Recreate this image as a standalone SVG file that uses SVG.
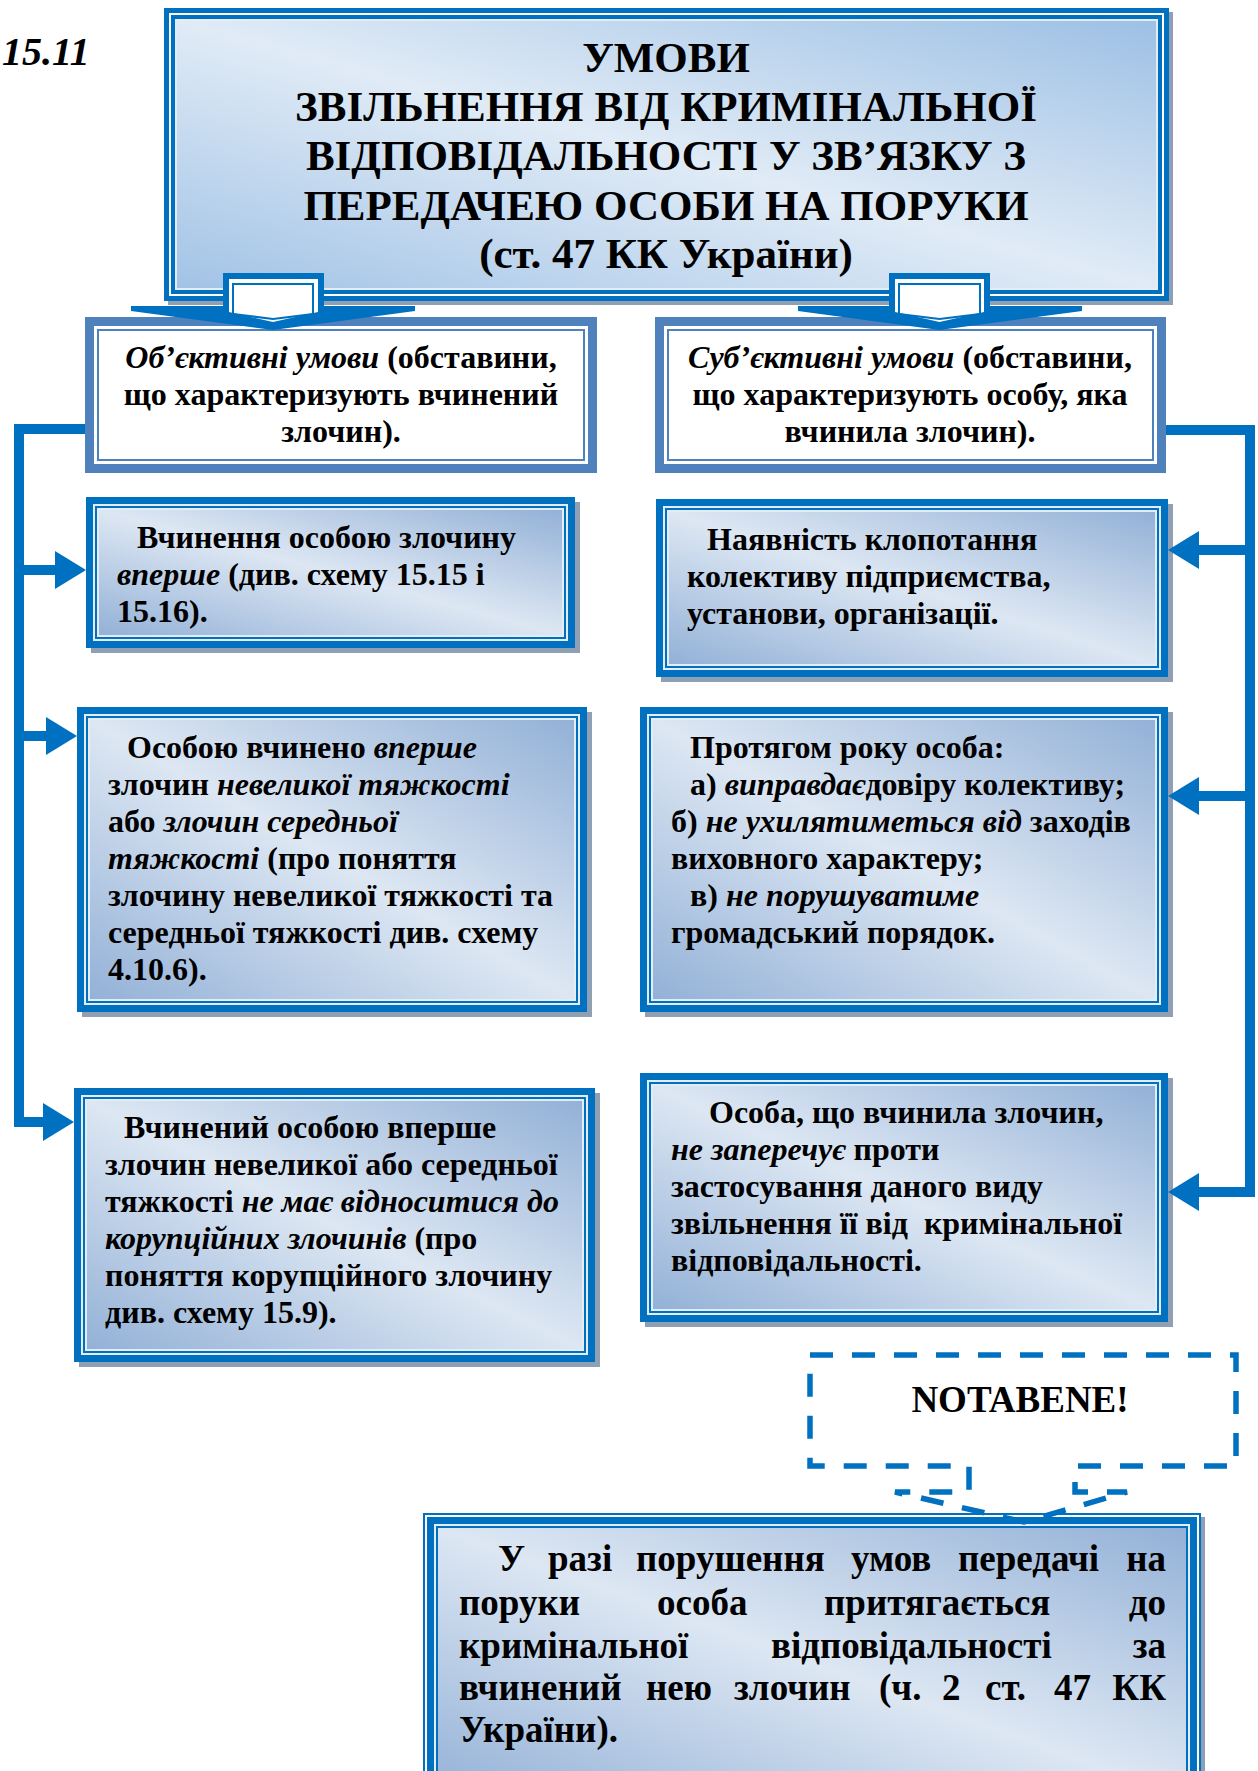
<svg xmlns="http://www.w3.org/2000/svg" width="1258" height="1771" viewBox="0 0 1258 1771">
<style>
text{font-family:"Liberation Serif","Times New Roman",serif;font-weight:bold;fill:#000}
.ttl{font-size:43px;text-anchor:middle}
.bx{font-size:32px}
.ctr{text-anchor:middle}
.big{font-size:37px}
.i{font-style:italic}
.blue{fill:#0070C0}
.sb{fill:#4F81BD}
.wh{fill:#fff}
.lt{fill:#E4ECF6}
.sh{fill:#8FA0B4}
.gd{fill:url(#gd)}
.gt{fill:url(#gt)}
.ln{stroke:#0070C0;stroke-width:10;fill:none}
</style>
<defs>
<linearGradient id="gd" x1="1" y1="0" x2="0" y2="1">
<stop offset="0" stop-color="#93B1D7"/>
<stop offset="0.5" stop-color="#DDE7F3"/>
<stop offset="1" stop-color="#93B1D7"/>
</linearGradient>
<linearGradient id="gt" x1="1" y1="0" x2="0" y2="1">
<stop offset="0" stop-color="#9DC0E5"/>
<stop offset="0.5" stop-color="#E0EBF6"/>
<stop offset="1" stop-color="#A2C3E6"/>
</linearGradient>
</defs>
<rect width="1258" height="1771" fill="#fff"/>

<text x="2" y="65" font-size="40" class="i">15.11</text>

<g id="title">
<rect class="sh" x="168" y="12" width="1005" height="293"/>
<rect class="blue" x="164" y="8" width="1005" height="293"/>
<rect class="wh" x="169" y="13" width="995" height="283"/>
<rect class="blue" x="171" y="15" width="991" height="279"/>
<rect class="lt" x="175" y="19" width="983" height="271"/>
<rect class="gt" x="177" y="21" width="979" height="267"/>
<text class="ttl" x="666" y="72">УМОВИ</text>
<text class="ttl" x="666" y="121">ЗВІЛЬНЕННЯ ВІД КРИМІНАЛЬНОЇ</text>
<text class="ttl" x="666" y="170">ВІДПОВІДАЛЬНОСТІ У ЗВ’ЯЗКУ З</text>
<text class="ttl" x="666" y="220">ПЕРЕДАЧЕЮ ОСОБИ НА ПОРУКИ</text>
<text class="ttl" x="666" y="268">(ст. 47 КК України)</text>
</g>

<g id="objective">
<rect class="sb" x="85" y="317" width="512" height="156"/>
<rect class="wh" x="94" y="326" width="494" height="138"/>
<rect class="sb" x="97" y="329" width="488" height="132"/>
<rect class="wh" x="99" y="331" width="484" height="128"/>
<text class="bx ctr" x="341" y="368"><tspan class="i">Об’єктивні умови</tspan> (обставини,</text>
<text class="bx ctr" x="341" y="405">що характеризують вчинений</text>
<text class="bx ctr" x="341" y="442">злочин).</text>
</g>

<g id="subjective">
<rect class="sb" x="655" y="317" width="511" height="156"/>
<rect class="wh" x="664" y="326" width="493" height="138"/>
<rect class="sb" x="667" y="329" width="487" height="132"/>
<rect class="wh" x="669" y="331" width="483" height="128"/>
<text class="bx ctr" x="910" y="368"><tspan class="i">Суб’єктивні умови</tspan> (обставини,</text>
<text class="bx ctr" x="910" y="405">що характеризують особу, яка</text>
<text class="bx ctr" x="910" y="442">вчинила злочин).</text>
</g>

<g id="b1">
<rect class="sh" x="91" y="502" width="489" height="151"/>
<rect class="blue" x="86" y="497" width="489" height="151"/>
<rect class="lt" x="93" y="504" width="475" height="137"/>
<rect class="blue" x="95" y="506" width="471" height="133"/>
<rect class="lt" x="97" y="508" width="467" height="129"/>
<rect class="gd" x="99" y="510" width="463" height="125"/>
<text class="bx" x="137" y="548">Вчинення особою злочину</text>
<text class="bx" x="117" y="585"><tspan class="i">вперше</tspan> (див. схему 15.15 і</text>
<text class="bx" x="117" y="622">15.16).</text>
</g>

<g id="b2">
<rect class="sh" x="82" y="712" width="510" height="305"/>
<rect class="blue" x="77" y="707" width="510" height="305"/>
<rect class="lt" x="84" y="714" width="496" height="291"/>
<rect class="blue" x="86" y="716" width="492" height="287"/>
<rect class="lt" x="88" y="718" width="488" height="283"/>
<rect class="gd" x="90" y="720" width="484" height="279"/>
<text class="bx" x="127" y="758">Особою вчинено <tspan class="i">вперше</tspan></text>
<text class="bx" x="108" y="795">злочин <tspan class="i">невеликої тяжкості</tspan></text>
<text class="bx" x="108" y="832">або <tspan class="i">злочин середньої</tspan></text>
<text class="bx" x="108" y="869"><tspan class="i">тяжкості</tspan> (про поняття</text>
<text class="bx" x="108" y="906">злочину невеликої тяжкості та</text>
<text class="bx" x="108" y="943">середньої тяжкості див. схему</text>
<text class="bx" x="108" y="980">4.10.6).</text>
</g>

<g id="b3">
<rect class="sh" x="79" y="1093" width="521" height="274"/>
<rect class="blue" x="74" y="1088" width="521" height="274"/>
<rect class="lt" x="81" y="1095" width="507" height="260"/>
<rect class="blue" x="83" y="1097" width="503" height="256"/>
<rect class="lt" x="85" y="1099" width="499" height="252"/>
<rect class="gd" x="87" y="1101" width="495" height="248"/>
<text class="bx" x="124" y="1138">Вчинений особою вперше</text>
<text class="bx" x="105" y="1175">злочин невеликої або середньої</text>
<text class="bx" x="105" y="1212">тяжкості <tspan class="i">не має відноситися до</tspan></text>
<text class="bx" x="105" y="1249"><tspan class="i">корупційних злочинів</tspan> (про</text>
<text class="bx" x="105" y="1286">поняття корупційного злочину</text>
<text class="bx" x="105" y="1323">див. схему 15.9).</text>
</g>

<g id="r1">
<rect class="sh" x="661" y="504" width="512" height="178"/>
<rect class="blue" x="656" y="499" width="512" height="178"/>
<rect class="lt" x="663" y="506" width="498" height="164"/>
<rect class="blue" x="665" y="508" width="494" height="160"/>
<rect class="lt" x="667" y="510" width="490" height="156"/>
<rect class="gd" x="669" y="512" width="486" height="152"/>
<text class="bx" x="707" y="550">Наявність клопотання</text>
<text class="bx" x="687" y="587">колективу підприємства,</text>
<text class="bx" x="687" y="624">установи, організації.</text>
</g>

<g id="r2">
<rect class="sh" x="645" y="712" width="528" height="305"/>
<rect class="blue" x="640" y="707" width="528" height="305"/>
<rect class="lt" x="647" y="714" width="514" height="291"/>
<rect class="blue" x="649" y="716" width="510" height="287"/>
<rect class="lt" x="651" y="718" width="506" height="283"/>
<rect class="gd" x="653" y="720" width="502" height="279"/>
<text class="bx" x="690" y="758">Протягом року особа:</text>
<text class="bx" x="690" y="795">а) <tspan class="i">виправдає</tspan>довіру колективу;</text>
<text class="bx" x="671" y="832">б) <tspan class="i">не ухилятиметься від</tspan> заходів</text>
<text class="bx" x="671" y="869">виховного характеру;</text>
<text class="bx" x="690" y="906">в) <tspan class="i">не порушуватиме</tspan></text>
<text class="bx" x="671" y="943">громадський порядок.</text>
</g>

<g id="r3">
<rect class="sh" x="645" y="1078" width="528" height="249"/>
<rect class="blue" x="640" y="1073" width="528" height="249"/>
<rect class="lt" x="647" y="1080" width="514" height="235"/>
<rect class="blue" x="649" y="1082" width="510" height="231"/>
<rect class="lt" x="651" y="1084" width="506" height="227"/>
<rect class="gd" x="653" y="1086" width="502" height="223"/>
<text class="bx" x="709" y="1123">Особа, що вчинила злочин,</text>
<text class="bx" x="671" y="1160"><tspan class="i">не заперечує</tspan> проти</text>
<text class="bx" x="671" y="1197">застосування даного виду</text>
<text class="bx" x="671" y="1234">звільнення її від&#160; кримінальної</text>
<text class="bx" x="671" y="1271">відповідальності.</text>
</g>

<g id="bottom">
<rect class="sh" x="427" y="1517" width="778" height="300"/>
<rect class="blue" x="423" y="1513" width="778" height="300"/>
<rect class="wh" x="425" y="1515" width="774" height="296"/>
<rect class="blue" x="427" y="1517" width="770" height="292"/>
<rect class="lt" x="434" y="1524" width="756" height="278"/>
<rect class="blue" x="436" y="1526" width="752" height="274"/>
<rect class="gd" x="438" y="1528" width="748" height="270"/>
<text class="big" y="1571"><tspan x="498">У</tspan><tspan x="548">разі</tspan><tspan x="636">порушення</tspan><tspan x="851">умов</tspan><tspan x="958">передачі</tspan><tspan x="1166" text-anchor="end">на</tspan></text>
<text class="big" y="1615"><tspan x="459">поруки</tspan><tspan x="657">особа</tspan><tspan x="824">притягається</tspan><tspan x="1166" text-anchor="end">до</tspan></text>
<text class="big" y="1658"><tspan x="459">кримінальної</tspan><tspan x="771">відповідальності</tspan><tspan x="1166" text-anchor="end">за</tspan></text>
<text class="big" y="1700"><tspan x="459">вчинений</tspan><tspan x="646">нею</tspan><tspan x="734">злочин</tspan><tspan x="879">(ч.</tspan><tspan x="942">2</tspan><tspan x="985">ст.</tspan><tspan x="1054">47</tspan><tspan x="1166" text-anchor="end">КК</tspan></text>
<text class="big" x="459" y="1742">України).</text>
</g>

<g id="notabene">
<path d="M810 1355 H1236 V1466 H1075 V1492 H1127 L1024 1522 L895 1492 H969 V1466 H810 Z" fill="none" stroke="#0070C0" stroke-width="5.5" stroke-dasharray="23 19"/>
<text x="1020" y="1412" font-size="37" text-anchor="middle">NOTABENE!</text>
</g>

<g id="connectors">
<path class="blue" d="M223 273 H324 V306 H415 V311 L273 330 L131 311 V306 H223 Z"/>
<path class="wh" d="M229 279 H318 V312 L273 322 L229 312 Z"/>
<path d="M233 314 V284 H313 V314 L273 319 Z" fill="none" stroke="#0070C0" stroke-width="2"/>
<path class="blue" d="M889 273 H990 V306 H1082 V311 L939.5 330 L798 311 V306 H889 Z"/>
<path class="wh" d="M895 279 H984 V312 L939.5 322 L895 312 Z"/>
<path d="M899 314 V284 H980 V314 L939.5 319 Z" fill="none" stroke="#0070C0" stroke-width="2"/>

<polyline class="ln" points="85,429 19,429 19,1122 46,1122"/>
<line class="ln" x1="19" y1="570" x2="57" y2="570"/>
<line class="ln" x1="19" y1="736" x2="48" y2="736"/>
<polygon class="blue" points="55,551 86,570 55,589"/>
<polygon class="blue" points="46,717 77,736 46,755"/>
<polygon class="blue" points="43,1103 74,1122 43,1141"/>

<polyline class="ln" points="1166,430 1250,430 1250,1192 1196,1192"/>
<line class="ln" x1="1250" y1="550" x2="1196" y2="550"/>
<line class="ln" x1="1250" y1="796" x2="1196" y2="796"/>
<polygon class="blue" points="1199,531 1168,550 1199,569"/>
<polygon class="blue" points="1199,777 1168,796 1199,815"/>
<polygon class="blue" points="1199,1173 1168,1192 1199,1211"/>
</g>
</svg>
